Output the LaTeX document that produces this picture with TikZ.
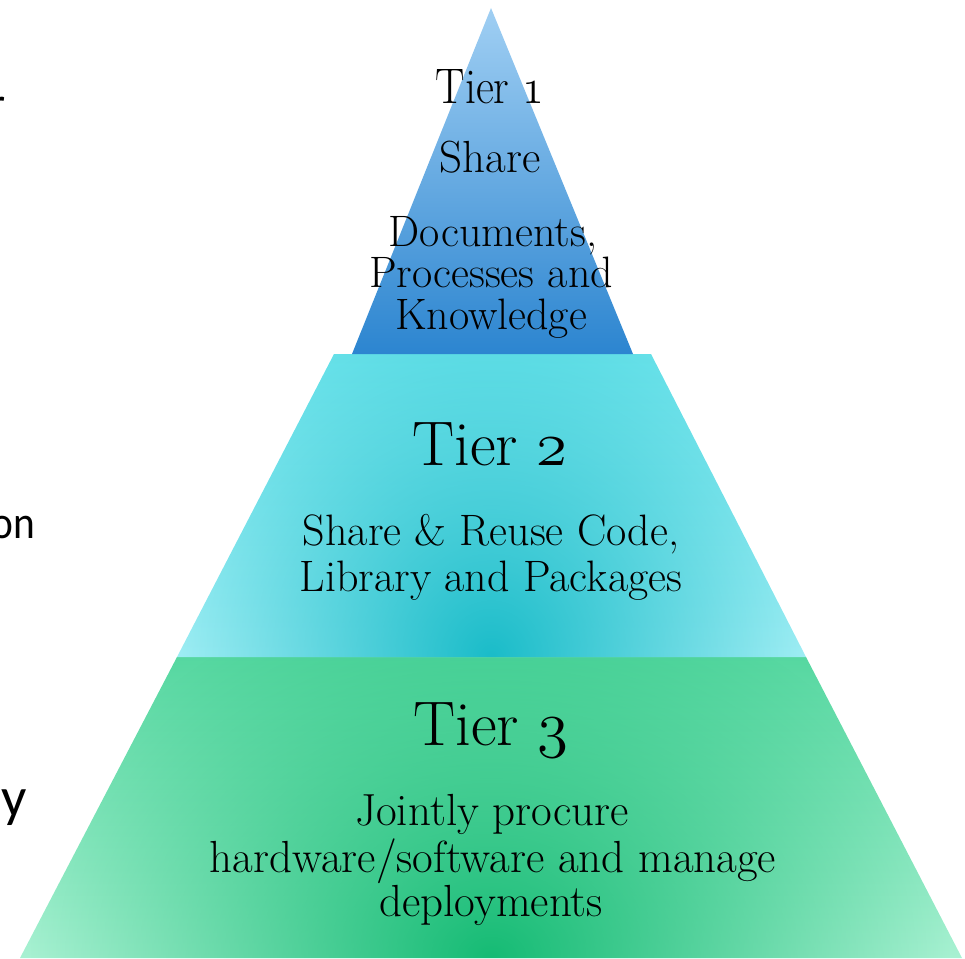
\RequirePackage{fix-cm}
\documentclass[tikz,border=0pt]{standalone}
\usepackage{fontspec}
\newfontfamily\sidefont{Carlito}
\usetikzlibrary{fadings}
\definecolor{tAtop}{HTML}{A0CFF3}
\definecolor{tAbot}{HTML}{2C85D0}
\definecolor{tBtop}{HTML}{66E1E9}
\definecolor{tBlight}{HTML}{A6F0F6}
\definecolor{tBdark}{HTML}{1ABCC9}
\definecolor{tCtop}{HTML}{55D7A0}
\definecolor{tClight}{HTML}{A8F1D2}
\definecolor{tCdark}{HTML}{15BB74}
\tikzfading[name=glow, inner color=transparent!0, outer color=transparent!100]
\newcommand\osn[1]{\ensuremath{\mathnormal{#1}}}
\tikzset{
  head/.style={anchor=base, inner sep=0pt, font=\fontsize{63}{63}\selectfont},
  body/.style={anchor=base, inner sep=0pt, font=\fontsize{45}{45}\selectfont},
  side/.style={anchor=base east, inner sep=0pt},
}
\begin{document}
\begin{tikzpicture}[x=1pt,y=-1pt]
\useasboundingbox (0,0) rectangle (965,958);
\clip (0,0) rectangle (965,958);
% Tier 3
\begin{scope}
  \clip (177,657) -- (806,657) -- (962,958) -- (20,958) -- cycle;
  \shade[top color=tCtop, bottom color=tClight] (15,655) rectangle (965,960);
  \fill[tCdark, path fading=glow] (491,958) ellipse (460 and 380);
\end{scope}
% Tier 2
\begin{scope}
  \clip (334,354) -- (651,354) -- (806,657) -- (177,657) -- cycle;
  \shade[top color=tBtop, bottom color=tBlight] (170,352) rectangle (810,658);
  \fill[tBdark, path fading=glow] (491,657) ellipse (330 and 350);
\end{scope}
% Tier 1
\shade[top color=tAtop, bottom color=tAbot] (491,8) -- (633,354) -- (352,354) -- cycle;

% Texts
\node[anchor=base, inner sep=0pt, font=\fontsize{50}{50}\selectfont] (t1h) at (490,103) {\scalebox{0.88}[1]{Tier \osn{1}}};
\node[body] (t1a) at (490,172) {Share};
\node[body, font=\fontsize{44}{44}\selectfont] (t1b) at (493,246) {Documents,};
\node[body, font=\fontsize{44}{44}\selectfont] (t1c) at (491,287) {Processes and};
\node[body, font=\fontsize{44}{44}\selectfont] (t1d) at (491,329) {Knowledge};

\node[head] (t2h) at (490,465) {Tier \osn{2}};
\node[body, font=\fontsize{44}{44}\selectfont] (t2a) at (491,545) {Share \& Reuse Code,};
\node[body, font=\fontsize{44}{44}\selectfont] (t2b) at (491,591) {Library and Packages};

\node[head] (t3h) at (491,745) {Tier \osn{3}};
\node[body] (t3a) at (492,825) {Jointly procure};
\node[body] (t3b) at (493,872) {hardware/software and manage};
\node[body] (t3c) at (491,916) {deployments};

% cut-off side texts
\node[side, font=\sidefont\fontsize{46}{46}\selectfont] (s1) at (6,119) {r};
\node[side, font=\sidefont\fontsize{46}{46}\selectfont] (s2) at (35,538) {\scalebox{0.9}[1]{on}};
\node[side, font=\sidefont\fontsize{56}{56}\selectfont] (s3) at (27,816) {y};
\end{tikzpicture}
\end{document}
